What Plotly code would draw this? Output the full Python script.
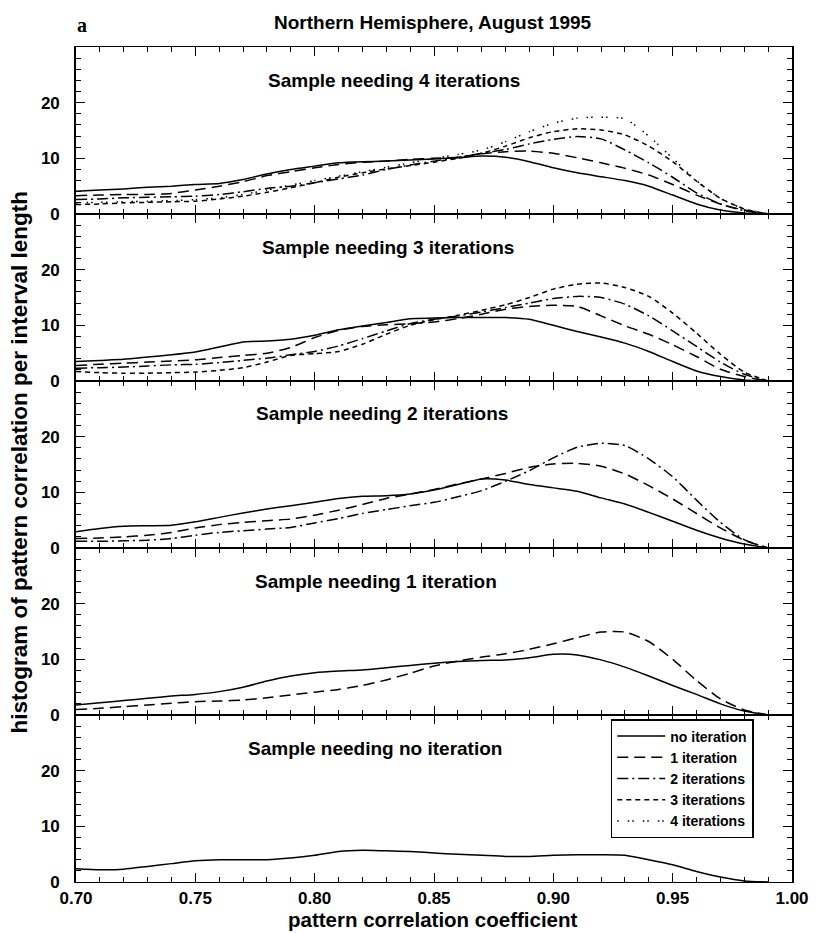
import plotly.graph_objects as go
from plotly.subplots import make_subplots

# ---------------- data ----------------
x_grid = [0.70, 0.71, 0.72, 0.73, 0.74, 0.75, 0.76, 0.77, 0.78, 0.79,
          0.80, 0.81, 0.82, 0.83, 0.84, 0.85, 0.86, 0.87, 0.88, 0.89,
          0.90, 0.91, 0.92, 0.93, 0.94, 0.95, 0.96, 0.97, 0.98, 0.99]

series_names = ["no iteration", "1 iteration", "2 iterations", "3 iterations", "4 iterations"]
panel_titles = ["Sample needing 4 iterations", "Sample needing 3 iterations",
                "Sample needing 2 iterations", "Sample needing 1 iteration",
                "Sample needing no iteration"]

# panel 1: sample needing 4 iterations
p1_none = [4.1,4.3,4.5,4.8,5.0,5.3,5.5,6.2,7.2,8.0,8.6,9.2,9.4,9.5,9.7,9.9,10.1,10.4,10.2,9.4,8.3,7.4,6.7,6.0,5.0,3.4,1.8,0.7,0.2,0.0]
p1_one = [3.3,3.4,3.5,3.5,3.7,4.3,5.0,5.8,6.9,7.6,8.3,8.9,9.3,9.5,9.8,10.0,10.2,10.8,11.2,11.3,10.9,10.1,9.2,8.2,7.0,5.3,3.4,1.8,0.7,0.0]
p1_two = [2.6,2.7,2.9,3.0,3.1,3.2,3.5,4.0,4.6,5.0,5.6,6.3,7.0,8.0,8.8,9.5,10.2,10.9,11.6,12.6,13.4,13.9,13.5,11.5,9.2,6.6,3.8,1.8,0.6,0.0]
p1_three = [1.7,1.8,2.0,2.1,2.2,2.3,2.7,3.2,3.9,4.7,5.6,6.6,7.4,8.1,8.7,9.3,10.0,10.9,12.2,13.7,14.8,15.3,15.1,14.2,12.2,9.4,5.9,2.8,0.9,0.0]
p1_four = [2.0,2.1,2.2,2.3,2.4,2.6,2.9,3.5,4.3,5.2,6.0,6.8,7.6,8.4,9.2,10.0,10.7,11.5,13.0,14.8,16.3,17.2,17.4,17.1,14.0,10.0,6.0,2.8,0.9,0.0]

# panel 2: sample needing 3 iterations
p2_none = [3.5,3.7,3.9,4.3,4.7,5.2,6.1,7.0,7.2,7.5,8.2,9.2,9.9,10.5,11.2,11.3,11.4,11.4,11.4,11.1,10.0,8.9,7.9,6.8,5.3,3.5,1.8,0.8,0.2,0.0]
p2_one = [2.8,3.0,3.2,3.4,3.6,3.8,4.2,4.6,5.0,6.0,7.8,9.1,9.8,10.1,10.3,10.6,11.2,12.0,12.9,13.4,13.6,13.4,11.7,9.9,8.4,6.5,4.4,2.1,0.8,0.0]
p2_two = [2.3,2.4,2.5,2.7,2.9,3.0,3.3,3.7,4.1,4.7,5.3,6.3,7.6,9.0,10.3,11.1,11.7,12.4,13.2,14.0,14.8,15.2,15.0,13.8,11.7,9.0,6.2,3.4,1.2,0.0]
p2_three = [1.7,1.5,1.4,1.4,1.5,1.6,1.9,2.4,3.4,4.6,4.9,5.3,6.6,8.4,10.0,11.0,11.8,12.7,13.7,15.0,16.5,17.4,17.6,16.8,15.2,12.2,8.6,4.8,1.6,0.0]

# panel 3: sample needing 2 iterations
p3_none = [2.9,3.5,3.9,4.0,4.1,4.7,5.5,6.3,7.0,7.6,8.2,8.9,9.3,9.4,9.7,10.4,11.4,12.4,12.2,11.4,10.8,10.2,9.0,7.9,6.4,4.8,3.2,1.8,0.7,0.0]
p3_one = [1.7,1.8,2.0,2.3,2.8,3.6,4.2,4.6,4.9,5.2,5.9,6.8,7.8,8.9,9.7,10.5,11.5,12.4,13.4,14.5,15.1,15.2,14.7,13.3,11.2,8.8,6.2,3.6,1.4,0.0]
p3_two = [1.2,1.2,1.3,1.4,1.7,2.3,2.8,3.1,3.4,3.7,4.5,5.3,6.2,6.9,7.6,8.2,9.2,10.3,12.0,13.9,16.2,18.1,18.8,18.4,16.0,12.8,8.6,4.6,1.5,0.0]

# panel 4: sample needing 1 iteration
p4_none = [1.8,2.2,2.6,3.0,3.4,3.7,4.2,5.0,6.1,7.0,7.6,7.9,8.1,8.5,8.9,9.3,9.6,9.8,9.9,10.3,10.9,10.8,9.9,8.6,7.0,5.3,3.7,2.0,0.7,0.0]
p4_one = [1.0,1.2,1.5,1.8,2.1,2.4,2.5,2.7,3.1,3.6,4.1,4.6,5.3,6.3,7.5,8.8,9.7,10.4,11.0,11.8,12.8,13.9,14.9,14.9,13.2,10.0,6.2,2.9,0.9,0.0]

# panel 5: sample needing no iteration
p5_none = [2.4,2.2,2.3,2.8,3.3,3.8,4.0,4.0,4.0,4.3,4.8,5.5,5.7,5.6,5.5,5.2,5.0,4.8,4.6,4.6,4.8,4.9,4.9,4.8,4.0,3.1,1.9,0.9,0.2,0.0]

panels = [
    [p1_none, p1_one, p1_two, p1_three, p1_four],
    [p2_none, p2_one, p2_two, p2_three],
    [p3_none, p3_one, p3_two],
    [p4_none, p4_one],
    [p5_none],
]

y_ticks = [0, 10, 20]
x_ticks = [0.70, 0.75, 0.80, 0.85, 0.90, 0.95, 1.00]
x_tick_labels = ["0.70", "0.75", "0.80", "0.85", "0.90", "0.95", "1.00"]

# ---------------- styles ----------------
dashes = ["solid", "11px,6px", "11px,4px,2px,4px", "5px,4px", "1.5px,9px,1.5px,3px"]
FONT = "Liberation Sans, Arial, Helvetica, sans-serif"

# the page body has an 8px margin: figure coordinates = page coordinates - 8
OFF = 8
W, H = 821 - OFF, 933 - OFF
L, T = 76 - OFF, 47 - OFF
PLOT_R, PLOT_B = 799 - OFF, 882 - OFF
R, B = W - PLOT_R, H - PLOT_B
plot_h = PLOT_B - T

fig = make_subplots(rows=5, cols=1, shared_xaxes=True, vertical_spacing=0)

for r, series in enumerate(panels, start=1):
    for k, ys in enumerate(series):
        fig.add_trace(go.Scatter(
            x=x_grid, y=ys, mode="lines",
            name=series_names[k], legendgroup=series_names[k],
            showlegend=(r == 1),
            line=dict(color="black", width=1.5, dash=dashes[k],
                      shape="spline", smoothing=0.6),
            hoverinfo="skip",
        ), row=r, col=1)

tickfont = dict(family=FONT, size=17, color="black", weight="bold")

for r in range(1, 6):
    fig.update_xaxes(
        range=[0.70, 1.00], tickvals=x_ticks, ticktext=x_tick_labels,
        ticks="inside", ticklen=9, tickwidth=1.2, tickcolor="black",
        minor=dict(dtick=0.01, tick0=0.70, ticks="inside", ticklen=5,
                   tickwidth=1, tickcolor="black"),
        showline=True, linecolor="black", linewidth=1.1, mirror="allticks",
        showgrid=False, zeroline=False,
        showticklabels=(r == 5), ticklabelstandoff=1,
        tickfont=tickfont,
        row=r, col=1)
    fig.update_yaxes(
        range=[0, 30], tickvals=y_ticks,
        ticks="inside", ticklen=9, tickwidth=1.2, tickcolor="black",
        minor=dict(dtick=2, tick0=0, ticks="inside", ticklen=5,
                   tickwidth=1, tickcolor="black"),
        showline=True, linecolor="black", linewidth=1.6, mirror="allticks",
        showgrid=False, zeroline=False, ticklabelstandoff=11,
        tickfont=tickfont,
        row=r, col=1)


def py(page_y):
    return (PLOT_B - (page_y - OFF)) / plot_h


def px(page_x):
    return ((page_x - OFF) - L) / (PLOT_R - L)


annotations = []
title_left = [268, 262, 256, 255, 248]          # page x of title left edges
panel_h = plot_h / 5
for i, txt in enumerate(panel_titles):
    top_page = 47 + i * panel_h
    annotations.append(dict(text=txt, x=px(title_left[i]), y=py(top_page + 33),
                            xref="paper", yref="paper", xanchor="left", yanchor="middle",
                            showarrow=False,
                            font=dict(family=FONT, size=19, color="black", weight="bold")))

annotations.append(dict(text="Northern Hemisphere, August 1995", x=px(436), y=py(22),
                        xref="paper", yref="paper", xanchor="center", yanchor="middle",
                        showarrow=False,
                        font=dict(family=FONT, size=19, color="black", weight="bold")))
annotations.append(dict(text="<b>a</b>", x=px(82), y=py(25),
                        xref="paper", yref="paper", xanchor="center", yanchor="middle",
                        showarrow=False,
                        font=dict(family="Liberation Serif, Times New Roman, serif", size=20, color="black")))
annotations.append(dict(text="histogram of pattern correlation per interval length",
                        x=px(18), y=py(462), textangle=-90,
                        xref="paper", yref="paper", xanchor="center", yanchor="middle",
                        showarrow=False,
                        font=dict(family=FONT, size=22.5, color="black", weight="bold")))
annotations.append(dict(text="pattern correlation coefficient",
                        x=px(436), y=py(933),
                        xref="paper", yref="paper", xanchor="center", yanchor="bottom",
                        showarrow=False,
                        font=dict(family=FONT, size=20.5, color="black", weight="bold")))

fig.update_layout(
    width=W, height=H,
    margin=dict(l=L, r=R, t=T, b=B, pad=0),
    paper_bgcolor="white", plot_bgcolor="white",
    annotations=annotations,
    showlegend=True,
    legend=dict(x=px(616), y=py(719), xanchor="left", yanchor="top",
                bgcolor="white", bordercolor="black", borderwidth=1.5,
                font=dict(family=FONT, size=14, color="black", weight="bold"),
                tracegroupgap=0, itemwidth=48),
)

fig.write_html("out.html")
